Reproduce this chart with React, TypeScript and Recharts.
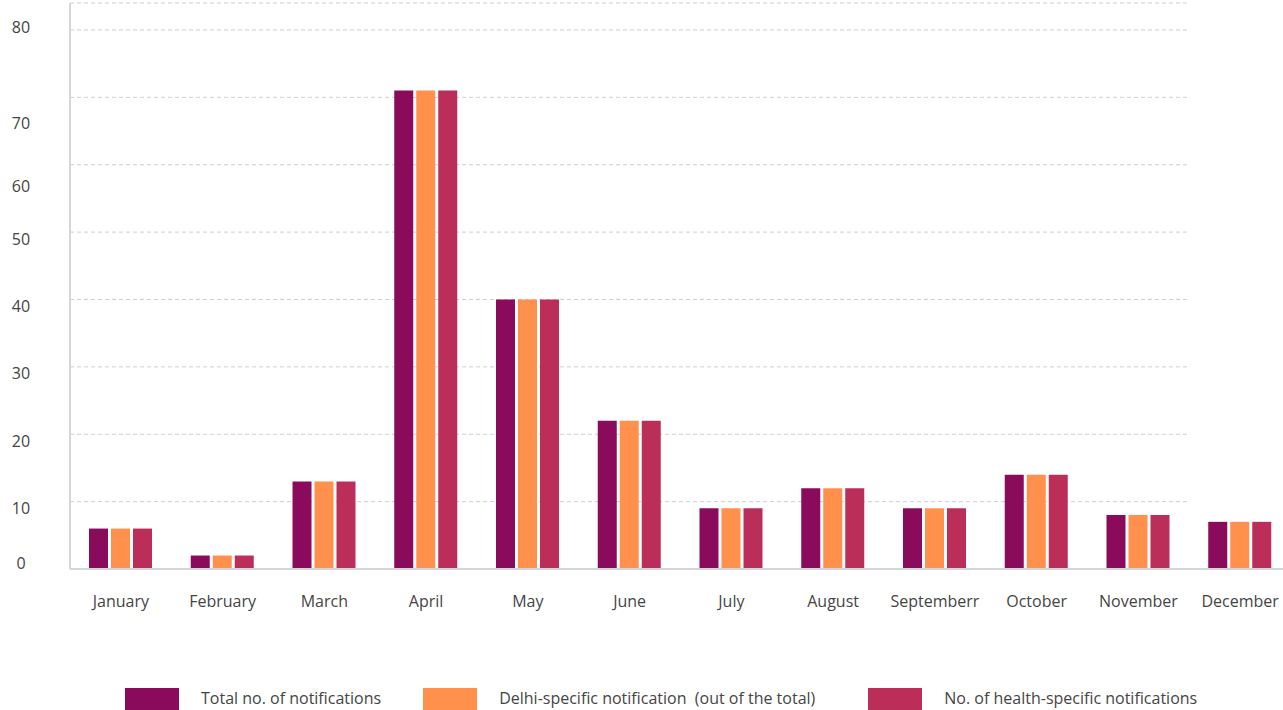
import { Bar, BarChart, CartesianGrid, XAxis, YAxis } from "recharts";

const months = [
  "January",
  "February",
  "March",
  "April",
  "May",
  "June",
  "July",
  "August",
  "Septemberr",
  "October",
  "November",
  "December",
];

const totalNotifications = [6, 2, 13, 71, 40, 22, 9, 12, 9, 14, 8, 7];
const delhiNotifications = [6, 2, 13, 71, 40, 22, 9, 12, 9, 14, 8, 7];
const healthNotifications = [6, 2, 13, 71, 40, 22, 9, 12, 9, 14, 8, 7];

const yTicks = [0, 10, 20, 30, 40, 50, 60, 70, 80];

const series = [
  { key: "total", name: "Total no. of notifications", color: "#8a0b5b" },
  { key: "delhi", name: "Delhi-specific notification  (out of the total)", color: "#ff914d" },
  { key: "health", name: "No. of health-specific notifications", color: "#bb2e59" },
];

const chartData = months.map((month, i) => ({
  month,
  total: totalNotifications[i],
  delhi: delhiNotifications[i],
  health: healthNotifications[i],
}));

const FONT = '"Open Sans", sans-serif';
const TEXT_COLOR = "#454545";
const AXIS_COLOR = "#d5d5dd";

// a few y labels sit off their grid line
const yLabelShift: Record<number, number> = { 0: -6, 60: 22, 70: 26, 80: -3 };

const YTick = ({ x, y, payload }: any) => (
  <text
    x={x}
    y={y + (yLabelShift[payload.value] ?? 7)}
    dy="0.35em"
    textAnchor="middle"
    fill={TEXT_COLOR}
    fontSize={16}
    fontFamily={FONT}
  >
    {payload.value}
  </text>
);

// grid lines stop where the last month's band begins
const GridLine = (props: any) => {
  const { x1, x2, y1, y2 } = props;
  const end = x1 + ((x2 - x1) * (months.length - 1)) / months.length;
  return (
    <line
      x1={x1}
      x2={end}
      y1={y1}
      y2={y2}
      stroke="#cdcdd6"
      strokeWidth={1}
      strokeDasharray="4 3"
      fill="none"
    />
  );
};

// space after each legend entry
const legendGaps = [42, 53, 0];

const Legend = () => (
  <div
    style={{
      position: "absolute",
      top: 688,
      left: 125,
      display: "flex",
      alignItems: "flex-start",
      fontFamily: FONT,
      fontSize: 16,
      color: TEXT_COLOR,
    }}
  >
    {series.map((s, i) => (
      <div
        key={s.key}
        style={{ display: "flex", alignItems: "flex-start", marginRight: legendGaps[i] }}
      >
        <span style={{ width: 54, height: 24, background: s.color, marginRight: 22 }} />
        <span style={{ lineHeight: "20px", whiteSpace: "pre" }}>{s.name}</span>
      </div>
    ))}
  </div>
);

export default function App() {
  return (
    <div
      style={{
        position: "fixed",
        top: 0,
        left: 0,
        width: 1283,
        height: 710,
        overflow: "hidden",
        background: "#fff",
      }}
    >
      <BarChart
        width={1291}
        height={710}
        data={chartData}
        margin={{ top: 3, right: 0, bottom: 101, left: 0 }}
        barSize={19}
        barGap={3}
      >
        <CartesianGrid vertical={false} horizontal={GridLine} />
        <XAxis
          dataKey="month"
          height={40}
          interval={0}
          tickLine={false}
          tickSize={0}
          tickMargin={27}
          axisLine={{ stroke: AXIS_COLOR, strokeWidth: 2 }}
          tick={{ fill: TEXT_COLOR, fontSize: 16, fontFamily: FONT }}
        />
        <YAxis
          width={70}
          domain={[0, 84]}
          ticks={yTicks}
          interval={0}
          tickLine={false}
          tickSize={0}
          tickMargin={49}
          axisLine={{ stroke: AXIS_COLOR, strokeWidth: 2 }}
          tick={<YTick />}
        />
        {series.map((s) => (
          <Bar
            key={s.key}
            dataKey={s.key}
            name={s.name}
            fill={s.color}
            isAnimationActive={false}
          />
        ))}
      </BarChart>
      <Legend />
    </div>
  );
}
